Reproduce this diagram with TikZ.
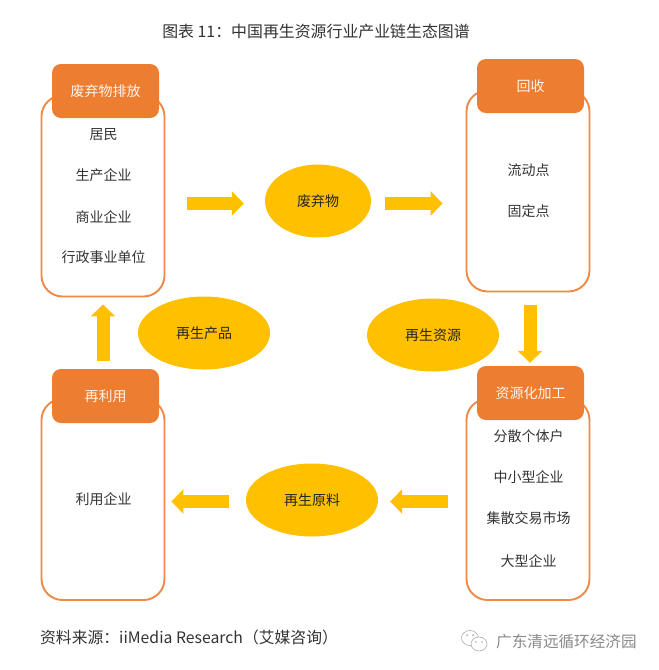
\documentclass[tikz,border=0pt]{standalone}
\usepackage{fontspec}
\setmainfont{Noto Sans CJK SC}
\usetikzlibrary{shapes.geometric,arrows.meta}
\definecolor{boxorange}{HTML}{ED7D31}
\definecolor{amber}{HTML}{FFC000}
\definecolor{inktext}{HTML}{333333}
\definecolor{markgrey}{HTML}{8A8A8A}
\tikzset{
  panel/.style={draw=boxorange!90!white,line width=1.9pt,fill=white,rounded corners=21pt,
    minimum width=123pt,minimum height=201pt,inner sep=0pt},
  header/.style={fill=boxorange,text=white!92!boxorange,rounded corners=9pt,
    minimum width=107pt,minimum height=54pt,inner sep=0pt,font=\fontsize{14}{16}\selectfont},
  item/.style={text=inktext,inner sep=0pt,xshift=0.5pt,yshift=-0.6pt,font=\fontsize{14}{16}\selectfont},
  bubble/.style={ellipse,fill=amber,text=black!85,inner sep=0pt,font=\fontsize{14}{16}\selectfont},
  blockarrow/.style={draw=amber,line width=13pt,-{Triangle[length=12pt,width=24pt,fill=amber]}}
}
\begin{document}
\begin{tikzpicture}[x=1pt,y=-1pt]
\useasboundingbox (0,0) rectangle (659,670);
\fill[white] (0,0) rectangle (659,670);

\node[text=inktext,inner sep=0pt,font=\fontsize{15.9}{18}\selectfont] (title) at (316,31.6) {图表 11：中国再生资源行业产业链生态图谱};

% four stages of the chain
\node[panel] (discharge) at (103,196) {};
\node[header] (dischargeHead) at (105.5,91) {废弃物排放};
\node[item] (d1) at (103,134) {居民};
\node[item] (d2) at (103,175) {生产企业};
\node[item] (d3) at (103,216) {商业企业};
\node[item] (d4) at (103,257) {行政事业单位};

\node[panel] (recycle) at (528,191) {};
\node[header] (recycleHead) at (530.5,86) {回收};
\node[item] (r1) at (528,170) {流动点};
\node[item] (r2) at (528,211) {固定点};

\node[panel] (process) at (528,499.5) {};
\node[header] (processHead) at (530.5,393) {资源化加工};
\node[item] (p1) at (528,436) {分散个体户};
\node[item] (p2) at (528,477) {中小型企业};
\node[item] (p3) at (528,518) {集散交易市场};
\node[item] (p4) at (528,560) {大型企业};

\node[panel] (reuse) at (103,499.5) {};
\node[header] (reuseHead) at (105.5,396) {再利用};
\node[item] (u1) at (103,499) {利用企业};

% material flowing between stages
\node[bubble,minimum width=106pt,minimum height=73pt] (waste) at (318,201) {废弃物};
\node[bubble,minimum width=132pt,minimum height=73pt] (product) at (204,333) {再生产品};
\node[bubble,minimum width=132pt,minimum height=73pt] (resource) at (433,335) {再生资源};
\node[bubble,minimum width=132pt,minimum height=73pt] (rawmat) at (312,500) {再生原料};

% block arrows
\draw[blockarrow,shorten <=22pt,shorten >=21pt] (discharge.east |- 0,203.5) -- (waste.west |- 0,203.5);
\draw[blockarrow,shorten <=14pt,shorten >=23pt] (waste.east |- 0,203.5) -- (recycle.west |- 0,203.5);
\draw[blockarrow,shorten <=13pt,shorten >=3pt] (recycle.south -| 530,0) -- (processHead.north -| 530,0);
\draw[blockarrow,shorten <=18pt,shorten >=12pt] (process.west |- 0,501.5) -- (rawmat.east |- 0,501.5);
\draw[blockarrow,shorten <=17pt,shorten >=6pt] (rawmat.west |- 0,501.5) -- (reuse.east |- 0,501.5);
\draw[blockarrow,shorten <=8pt,shorten >=7pt] (reuseHead.north -| 103,0) -- (discharge.south -| 103,0);

\node[anchor=west,text=inktext,inner sep=0pt,font=\fontsize{15.8}{18}\selectfont] (source) at (40,637) {资料来源：iiMedia Research（艾媒咨询）};

% account mark in the lower corner
\node[anchor=west,text=markgrey,inner sep=0pt,font=\fontsize{15.6}{18}\selectfont] (account) at (496,642) {广东清远循环经济园};
\draw[markgrey!70,line width=0.6pt,fill=white] (470,638) ellipse (8.5pt and 7.5pt);
\draw[markgrey!70,line width=0.6pt,fill=white] (479,644) ellipse (8pt and 7pt);
\fill[markgrey!70] (467,635) circle (1pt) (473,635) circle (1pt) (476,642) circle (0.9pt) (482,642) circle (0.9pt);
\end{tikzpicture}
\end{document}
